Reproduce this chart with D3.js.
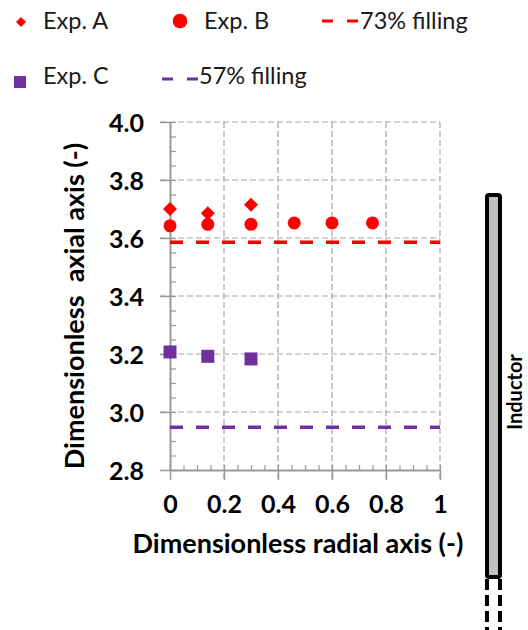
<!DOCTYPE html>
<html><head><meta charset="utf-8">
<script src="https://cdn.jsdelivr.net/npm/d3@7"></script>
<style>html,body{margin:0;padding:0;background:#fff}svg{display:block}</style>
</head><body>
<script>
// ---- data ----
const expA_x = [0, 0.14, 0.30];
const expA_y = [3.70, 3.685, 3.715];
const expB_x = [0, 0.14, 0.30, 0.46, 0.60, 0.75];
const expB_y = [3.642, 3.647, 3.647, 3.652, 3.652, 3.652];
const expC_x = [0, 0.14, 0.30];
const expC_y = [3.207, 3.192, 3.183];
const fill73 = 3.585;
const fill57 = 2.947;
const xTicks = [0, 0.2, 0.4, 0.6, 0.8, 1];
const xTickLabels = ["0", "0.2", "0.4", "0.6", "0.8", "1"];
const yTicks = [2.8, 3.0, 3.2, 3.4, 3.6, 3.8, 4.0];
const yTickLabels = ["2.8", "3.0", "3.2", "3.4", "3.6", "3.8", "4.0"];
const legendLabels = ["Exp. A", "Exp. B", "73% filling", "Exp. C", "57% filling"];
const xTitle = "Dimensionless radial axis (-)";
const yTitle = "Dimensionless\u00A0 axial axis (-)";
const inductorLabel = "Inductor";

const RED = "#ff0000", PURPLE = "#7030a0", GRID = "#a6a6a6", AXIS = "#999999";
const FONT = "Lato, 'Open Sans', sans-serif";

const W = 528, H = 630;
const svg = d3.select("body").append("svg").attr("width", W).attr("height", H);

const x = d3.scaleLinear().domain([0, 1]).range([170, 440]);
const y = d3.scaleLinear().domain([2.8, 4.0]).range([470, 122]);

// grid
const g = svg.append("g");
g.selectAll(".hg").data(yTicks.filter(v => v > 2.8)).join("line")
  .attr("x1", x(0) - 10).attr("x2", x(1)).attr("y1", d => y(d)).attr("y2", d => y(d))
  .attr("stroke", GRID).attr("stroke-width", 1.2).attr("stroke-dasharray", "6,3");
g.selectAll(".vg").data(xTicks.filter(v => v > 0)).join("line")
  .attr("x1", d => x(d)).attr("x2", d => x(d)).attr("y1", y(4.0)).attr("y2", y(2.8) + 10)
  .attr("stroke", GRID).attr("stroke-width", 1.2).attr("stroke-dasharray", "6,3");

// axes (lines + ticks via d3 axes)
const xAxisMinor = d3.axisBottom(x).tickValues(d3.range(0, 1.0001, 0.05)).tickSize(-5).tickFormat("");
const yAxisMinor = d3.axisLeft(y).tickValues(d3.range(2.8, 4.0001, 0.05)).tickSize(-6).tickFormat("");
const gxm = svg.append("g").attr("transform", `translate(0,${y(2.8)})`).call(xAxisMinor);
const gym = svg.append("g").attr("transform", `translate(${x(0)},0)`).call(yAxisMinor);
[gxm, gym].forEach(a => { a.selectAll("path").remove(); a.selectAll("line").attr("stroke", AXIS).attr("stroke-width", 1.2); });

const xAxis = d3.axisBottom(x).tickValues(xTicks).tickSize(10).tickSizeOuter(0).tickPadding(14)
  .tickFormat((d, i) => xTickLabels[i]);
const yAxis = d3.axisLeft(y).tickValues(yTicks).tickSize(10).tickSizeOuter(0).tickPadding(16)
  .tickFormat((d, i) => yTickLabels[i]);
const gx = svg.append("g").attr("transform", `translate(0,${y(2.8)})`).call(xAxis);
const gy = svg.append("g").attr("transform", `translate(${x(0)},0)`).call(yAxis);
[gx, gy].forEach(a => {
  a.select("path.domain").attr("stroke", AXIS).attr("stroke-width", 2);
  a.selectAll("line").attr("stroke", AXIS).attr("stroke-width", 1.5);
  a.selectAll("text").attr("fill", "#000").style("font-family", FONT).style("font-weight", 700).style("font-size", "25px");
});
gy.selectAll("text").attr("dy", "0.36em");
gx.selectAll("text").attr("dy", "0.74em");

// reference lines
svg.append("line").attr("x1", x(0)).attr("x2", x(1)).attr("y1", y(fill73)).attr("y2", y(fill73))
  .attr("stroke", RED).attr("stroke-width", 3.5).attr("stroke-dasharray", "13,13");
svg.append("line").attr("x1", x(0)).attr("x2", x(1)).attr("y1", y(fill57)).attr("y2", y(fill57))
  .attr("stroke", PURPLE).attr("stroke-width", 3.5).attr("stroke-dasharray", "13,13");

// markers
const diamond = d3.symbol().type(d3.symbolDiamond2).size(125);
svg.selectAll(".b").data(expB_x).join("circle")
  .attr("cx", d => x(d)).attr("cy", (d, i) => y(expB_y[i])).attr("r", 6.5).attr("fill", RED);
svg.selectAll(".a").data(expA_x).join("path")
  .attr("d", diamond).attr("transform", (d, i) => `translate(${x(d)},${y(expA_y[i])})`).attr("fill", RED);
svg.selectAll(".c").data(expC_x).join("rect")
  .attr("x", d => x(d) - 6.5).attr("y", (d, i) => y(expC_y[i]) - 6.5).attr("width", 13).attr("height", 13).attr("fill", PURPLE);

// axis titles
svg.append("text").attr("x", 298).attr("y", 553).attr("text-anchor", "middle")
  .style("font-family", FONT).style("font-weight", 700).style("font-size", "27px").text(xTitle);
svg.append("text").attr("transform", `translate(84,306) rotate(-90)`).attr("text-anchor", "middle")
  .style("font-family", FONT).style("font-weight", 700).style("font-size", "27px").text(yTitle);

// legend
const leg = svg.append("g");
function ltext(tx, ty, s) {
  leg.append("text").attr("x", tx).attr("y", ty).text(s).attr("fill", "#1a1a1a")
    .style("font-family", FONT).style("font-size", "23.5px");
}
leg.append("path").attr("d", d3.symbol().type(d3.symbolDiamond2).size(64)).attr("transform", "translate(21,22)").attr("fill", RED);
ltext(43, 29, legendLabels[0]);
leg.append("circle").attr("cx", 180).attr("cy", 21).attr("r", 7.3).attr("fill", RED);
ltext(204, 29, legendLabels[1]);
leg.append("line").attr("x1", 322).attr("x2", 359).attr("y1", 21).attr("y2", 21)
  .attr("stroke", RED).attr("stroke-width", 3).attr("stroke-dasharray", "11,14");
ltext(360, 29, legendLabels[2]);
leg.append("rect").attr("x", 14).attr("y", 76).attr("width", 12).attr("height", 12).attr("fill", PURPLE);
ltext(43, 84, legendLabels[3]);
leg.append("line").attr("x1", 162).attr("x2", 199).attr("y1", 79).attr("y2", 79)
  .attr("stroke", PURPLE).attr("stroke-width", 3).attr("stroke-dasharray", "11,14");
ltext(199, 84, legendLabels[4]);

// inductor
const ind = svg.append("g");
ind.append("rect").attr("x", 487).attr("y", 195).attr("width", 13).attr("height", 382).attr("rx", 2)
  .attr("fill", "#c0c0c0").attr("stroke", "#000").attr("stroke-width", 4);
ind.append("line").attr("x1", 487).attr("x2", 487).attr("y1", 579).attr("y2", 630)
  .attr("stroke", "#000").attr("stroke-width", 4).attr("stroke-dasharray", "11,5");
ind.append("line").attr("x1", 500).attr("x2", 500).attr("y1", 579).attr("y2", 630)
  .attr("stroke", "#000").attr("stroke-width", 4).attr("stroke-dasharray", "11,5");
ind.append("text").attr("transform", "translate(522,392) rotate(-90)").attr("text-anchor", "middle")
  .style("font-family", FONT).style("font-weight", 700).style("font-size", "20px").text(inductorLabel);
</script>
</body></html>
